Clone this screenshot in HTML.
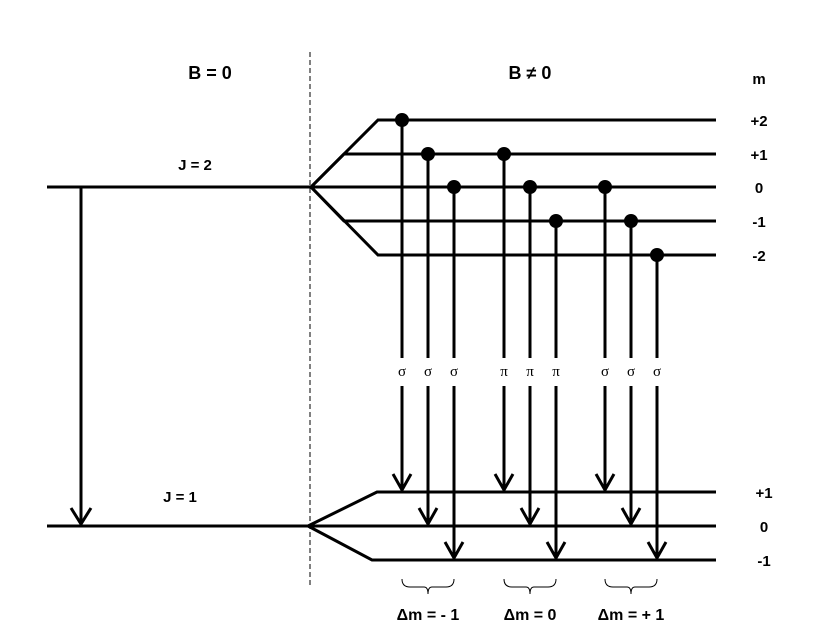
<!DOCTYPE html>
<html><head><meta charset="utf-8"><style>
body{margin:0;background:#fff}
svg text{font-family:"Liberation Sans",sans-serif;font-weight:bold;fill:#000}
</style></head><body>
<svg id="s" width="823" height="634" viewBox="0 0 823 634">
<g stroke="#000" stroke-width="3" fill="none">
<line x1="47" y1="187" x2="311" y2="187"/>
<line x1="47" y1="526" x2="308" y2="526"/>
<polyline points="311,187 378,120 716,120"/>
<polyline points="311,187 344,154 716,154"/>
<line x1="311" y1="187" x2="716" y2="187"/>
<polyline points="311,187 344,221 716,221"/>
<polyline points="311,187 378,255 716,255"/>
<polyline points="308,526 377,492 716,492"/>
<line x1="308" y1="526" x2="716" y2="526"/>
<polyline points="308,526 372,560 716,560"/>
<line x1="81" y1="187" x2="81" y2="524"/>
<polyline points="71,508 81,524 91,508"/>
</g>
<line x1="310" y1="52" x2="310" y2="586" stroke="#000" stroke-width="1" stroke-dasharray="5,3"/>
<text x="210" y="79" font-size="18" text-anchor="middle">B = 0</text>
<text x="530" y="79" font-size="18" text-anchor="middle">B ≠ 0</text>
<text x="759" y="84" font-size="15" text-anchor="middle">m</text>
<text x="195" y="170" font-size="15" text-anchor="middle">J = 2</text>
<text x="180" y="502" font-size="15" text-anchor="middle">J = 1</text>
<g id="tr"></g>
</svg>
<script>
const upperM=["+2","+1","0","-1","-2"];
const upperY=[120,154,187,221,255];
const lowerM=["+1","0","-1"];
const lowerY=[492,526,560];
const fromIdx=[0,1,2,1,2,3,2,3,4];
const toIdx=[0,1,2,0,1,2,0,1,2];
const xs=[402,428,454,504,530,556,605,631,657];
const labels=["σ","σ","σ","π","π","π","σ","σ","σ"];
const groups=["Δm = - 1","Δm = 0","Δm = + 1"];
const NS="http://www.w3.org/2000/svg";
const g=document.getElementById('tr');
function mk(t,a){const e=document.createElementNS(NS,t);for(const k in a)e.setAttribute(k,a[k]);g.appendChild(e);return e;}
upperM.forEach((m,i)=>{const t=mk('text',{x:759,y:upperY[i]+6,'font-size':15,'text-anchor':'middle'});t.textContent=m;

});
lowerM.forEach((m,i)=>{const t=mk('text',{x:764,y:lowerY[i]+6,'font-size':15,'text-anchor':'middle'});t.textContent=m;

});
xs.forEach((x,i)=>{
const y1=upperY[fromIdx[i]],y2=lowerY[toIdx[i]];
const a=mk('line',{x1:x,y1:y1,x2:x,y2:358,stroke:'#000','stroke-width':3});


const b=mk('line',{x1:x,y1:386,x2:x,y2:y2-2,stroke:'#000','stroke-width':3});


const h=mk('polyline',{points:`${x-9},${y2-18} ${x},${y2-2} ${x+9},${y2-18}`,stroke:'#000','stroke-width':3,fill:'none'});


const c=mk('circle',{cx:x,cy:y1,r:7,fill:'#000'});


const t=mk('text',{x:x,y:376,'font-size':15,'text-anchor':'middle'});t.textContent=labels[i];
t.style.fontWeight='normal';t.style.fontFamily='"Liberation Serif",serif';


});
groups.forEach((s,k)=>{
const x0=xs[k*3],x1=xs[k*3+2],xm=(x0+x1)/2;
const p=mk('path',{d:`M${x0},579 q0,8 8,8 L${xm-4},587 q4,0 4,7 q0,-7 4,-7 L${x1-8},587 q8,0 8,-8`,stroke:'#000','stroke-width':1,fill:'none'});


const t=mk('text',{x:xm,y:620,'font-size':16,'text-anchor':'middle'});t.textContent=s;


});
</script>
</body></html>
